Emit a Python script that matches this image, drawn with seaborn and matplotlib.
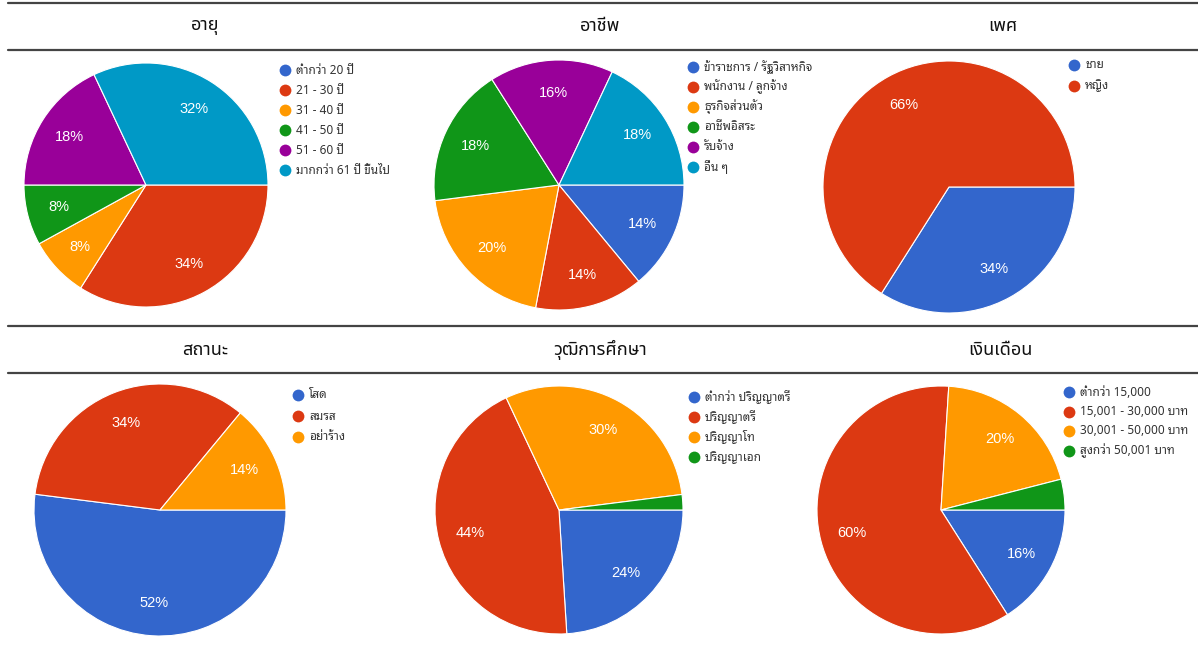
import matplotlib
matplotlib.use("Agg")
import matplotlib.pyplot as plt
from matplotlib.lines import Line2D
from matplotlib import font_manager as fm
import seaborn as sns

# ---------------- data ----------------
titles = ["อายุ", "อาชีพ", "เพศ", "สถานะ", "วุฒิการศึกษา", "เงินเดือน"]

age_labels = ["ต่ำกว่า 20 ปี", "21 - 30 ปี", "31 - 40 ปี", "41 - 50 ปี", "51 - 60 ปี", "มากกว่า 61 ปี ขึ้นไป"]
age_values = [0, 34, 8, 8, 18, 32]

job_labels = ["ข้าราชการ / รัฐวิสาหกิจ", "พนักงาน / ลูกจ้าง", "ธุรกิจส่วนตัว", "อาชีพอิสระ", "รับจ้าง", "อื่น ๆ"]
job_values = [14, 14, 20, 18, 16, 18]

sex_labels = ["ชาย", "หญิง"]
sex_values = [34, 66]

status_labels = ["โสด", "สมรส", "อย่าร้าง"]
status_values = [52, 34, 14]

edu_labels = ["ต่ำกว่า ปริญญาตรี", "ปริญญาตรี", "ปริญญาโท", "ปริญญาเอก"]
edu_values = [24, 44, 30, 2]

salary_labels = ["ต่ำกว่า 15,000", "15,001 - 30,000 บาท", "30,001 - 50,000 บาท", "สูงกว่า 50,001 บาท"]
salary_values = [16, 60, 20, 4]

colors = ["#3366CC", "#DC3912", "#FF9900", "#109618", "#990099", "#0099C6"]

# ---------------- style ----------------
sns.set_theme(style="white")
sns.set_palette(colors)

names = {f.name for f in fm.fontManager.ttflist}
thai = next((n for n in ["Noto Sans Thai", "Sarabun", "Prompt", "Kanit", "Athiti"] if n in names), "DejaVu Sans")
thai_loop = next((n for n in ["Noto Sans Thai Looped", "Sarabun", thai] if n in names), thai)
latin = "Liberation Sans" if "Liberation Sans" in names else "DejaVu Sans"
plt.rcParams["font.family"] = [thai, "DejaVu Sans"]

W, H = 1198, 660
fig = plt.figure(figsize=(W / 100, H / 100), dpi=100)

def fx(x):
    return x / W

def fy(y):
    return 1 - y / H

# horizontal rules
for y in [3, 50, 326, 373]:
    fig.add_artist(Line2D([fx(8), fx(1198)], [fy(y), fy(y)], color="#444444", lw=1.6))

# titles
title_pos = [(205, 26), (600, 26), (1003, 26), (205, 350), (600, 350), (1000, 350)]
for t, (x, y) in zip(titles, title_pos):
    fig.text(fx(x), fy(y), t, ha="center", va="center", fontsize=13, fontweight="medium",
             color="#111111", family=[thai, "DejaVu Sans"])

charts = [
    (age_values, age_labels, (146, 185, 122), (285, 70, 20)),
    (job_values, job_labels, (559, 185, 125), (693, 67, 20)),
    (sex_values, sex_labels, (949, 187, 126), (1074, 65, 21)),
    (status_values, status_labels, (160, 510, 126), (298, 395, 21)),
    (edu_values, edu_labels, (559, 510, 124), (694, 397, 20)),
    (salary_values, salary_labels, (941, 510, 124), (1069, 392, 19.5)),
]

for vals, labs, (cx, cy, r), (lx, ly, ls) in charts:
    ax = fig.add_axes([fx(cx - r), fy(cy + r), (2 * r) / W, (2 * r) / H])
    wedges, texts, autotexts = ax.pie(
        vals, colors=colors[:len(vals)], startangle=0, counterclock=False,
        autopct=lambda p: f"{p:.0f}%" if p >= 5 else "", pctdistance=0.74,
        wedgeprops=dict(edgecolor="white", linewidth=0.8),
        textprops=dict(color="white", fontsize=10.5, family=latin))
    ax.set_xlim(-1, 1)
    ax.set_ylim(-1, 1)
    ax.set_aspect("auto")
    ax.axis("off")
    for i, lab in enumerate(labs):
        y = ly + i * ls
        fig.add_artist(Line2D([fx(lx)], [fy(y)], marker="o", markersize=8.5,
                              color=colors[i], markeredgewidth=0, linestyle="none"))
        fig.text(fx(lx + 11), fy(y), lab, ha="left", va="center", fontsize=8.5,
                 color="#333333", family=[thai_loop, latin, "DejaVu Sans"])

fig.savefig("out.png", dpi=100)
